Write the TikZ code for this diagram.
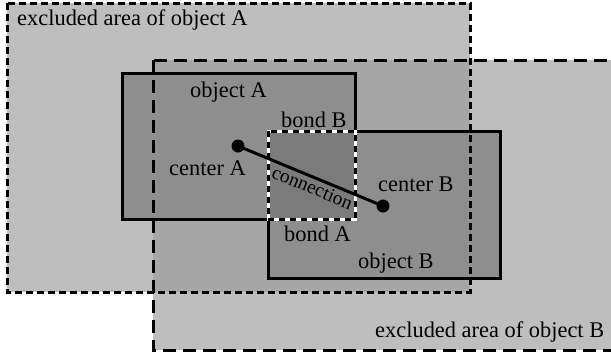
\documentclass[tikz,border=0pt]{standalone}
\usepackage{fontspec}
\setmainfont{Liberation Serif}
\definecolor{exgray}{RGB}{190,190,190}
\definecolor{exover}{RGB}{166,166,166}
\definecolor{objgray}{RGB}{142,142,142}
\definecolor{bondgray}{RGB}{123,123,123}
\begin{document}
\begin{tikzpicture}[x=1bp,y=-1bp,
  exAline/.style={draw=black,line width=3bp,dash pattern=on 7bp off 4bp},
  exBline/.style={draw=black,line width=3bp,dash pattern=on 13bp off 7bp},
  objline/.style={draw=black,line width=3bp,line join=miter},
  bondwhite/.style={draw=white,line width=3bp},
  bondblack/.style={draw=black,line width=3bp,dash pattern=on 6bp off 5bp},
  lbl/.style={font=\fontsize{22.5}{27}\selectfont,inner sep=0pt,anchor=base west},
  dotnode/.style={circle,fill=black,minimum size=13bp,inner sep=0pt}]
\useasboundingbox (0,0) rectangle (611,358);
\clip (0,0) rectangle (611,358);
% fills
\fill[exgray] (7,3) rectangle (470,292);
\fill[exgray] (153,60) rectangle (650,350);
\fill[exover] (153,60) rectangle (470,292);
\fill[objgray] (122,73) rectangle (355,219);
\fill[objgray] (268,131) rectangle (500,278);
\fill[bondgray] (268,131) rectangle (355,219);
% excluded area borders
\draw[exAline] (7,3) rectangle (470,292);
\draw[exBline] (153,60) rectangle (650,350);
% object borders
\draw[objline] (355,131) -- (355,73) -- (122,73) -- (122,219) -- (268,219);
\draw[objline] (268,219) -- (268,278) -- (500,278) -- (500,131) -- (355,131);
% bond box
\draw[bondwhite] (268,131) rectangle (355,219);
\draw[bondblack] (268,131) rectangle (355,219);
% centers and connection
\node[dotnode] (cA) at (238,146) {};
\node[dotnode] (cB) at (383,206) {};
\draw[line width=3bp] (cA.center) -- node[sloped,below,pos=0.54,inner sep=2pt,font=\fontsize{19.5}{23}\selectfont] (conn) {connection} (cB.center);
% labels
\node[lbl] (exAl) at (17,25) {excluded area of object A};
\node[lbl] (exBl) at (375,337) {excluded area of object B};
\node[lbl] (oAl) at (190,97) {object A};
\node[lbl] (oBl) at (358,268) {object B};
\node[lbl] (cAl) at (169,175) {center A};
\node[lbl] (cBl) at (378,191) {center B};
\node[lbl] (bBl) at (281,127) {bond B};
\node[lbl] (bAl) at (284,241) {bond A};
\end{tikzpicture}
\end{document}
